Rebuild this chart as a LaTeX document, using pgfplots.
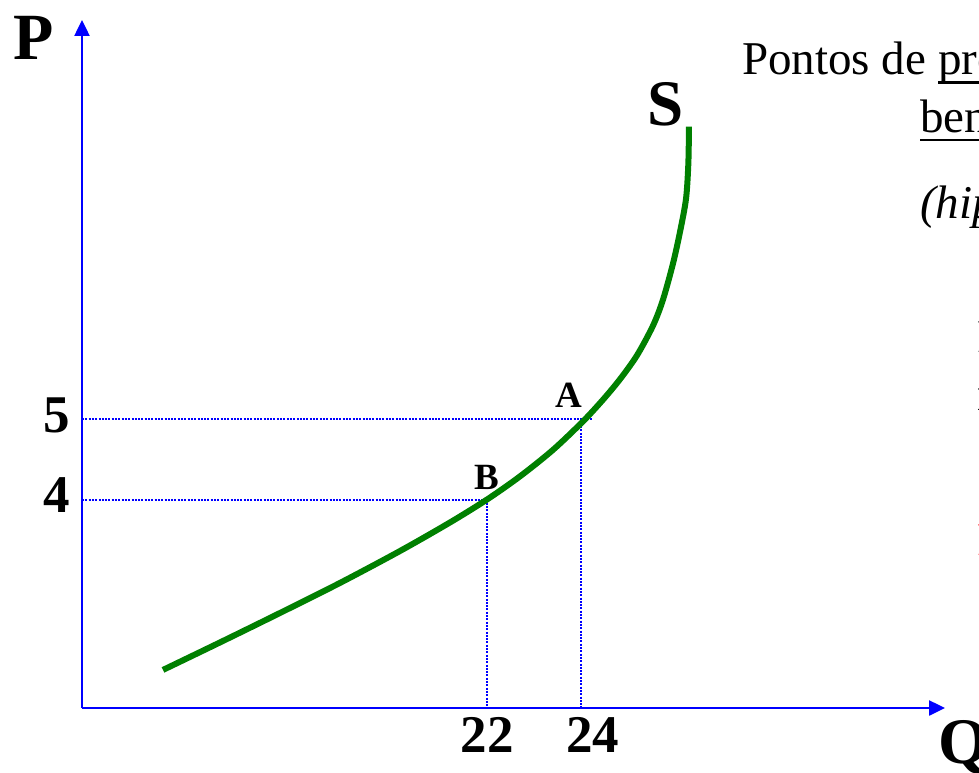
\documentclass[border=0pt]{standalone}
\usepackage{fontspec}
\setmainfont{Liberation Serif}
\usepackage{pgfplots}
\pgfplotsset{compat=1.18}
\usetikzlibrary{arrows.meta}
\definecolor{sgreen}{RGB}{0,128,0}
\newcommand\ul[1]{\setbox0\hbox{#1}\rlap{\rule[-9pt]{\wd0}{2.5pt}}\box0}
\begin{document}
\begin{tikzpicture}
\useasboundingbox (0,0) rectangle (979pt,-773pt);
\begin{axis}[at={(82pt,-708pt)}, anchor=south west, scale only axis,
  width=863pt, height=688pt,
  xmin=13.29, xmax=31.85, ymin=1.4, ymax=9.98,
  axis lines=left,
  axis line style={blue, line width=2.5pt, -{Triangle[length=16pt,width=15pt]}},
  xtick={22,24}, ytick={4,5}, xticklabels={22\hspace{12pt},\hspace{26pt}24}, yticklabels={4,5},
  major tick length=0pt, tick style={draw=none},
  ticklabel style={font=\fontsize{53}{53}\selectfont\bfseries, text=black},
  xticklabel style={anchor=north, inner sep=0pt, yshift=-9pt},
  yticklabel style={anchor=east, inner sep=0pt, xshift=-12pt, yshift=4pt},
  clip=false, /pgf/number format/assume math mode=true]
\addplot[blue, line width=2pt, dash pattern=on 2pt off 1.3pt] coordinates {(13.29,5) (24.26,5)};
\addplot[blue, line width=2pt, dash pattern=on 2pt off 1.3pt] coordinates {(24.02,5) (24.02,1.4)};
\addplot[blue, line width=2pt, dash pattern=on 2pt off 1.3pt] coordinates {(13.29,4) (22,4)};
\addplot[blue, line width=2pt, dash pattern=on 2pt off 1.3pt] coordinates {(22,4) (22,1.4)};
\addplot[sgreen, line width=6pt, smooth, tension=0.5] coordinates {
(15.032,1.875) (16.258,2.218) (17.548,2.585) (18.839,2.96) (20.129,3.358) (21.204,3.714)
(22,4) (22.710,4.289) (23.419,4.619) (24.065,4.975) (24.495,5.245) (24.860,5.5)
(25.226,5.798) (25.570,6.168) (25.785,6.493) (26.0,6.943) (26.151,7.338)
(26.280,7.75) (26.330,8.188) (26.344,8.65)};
\node[anchor=base, inner sep=0pt, font=\fontsize{37}{37}\selectfont\bfseries] at (axis cs:23.76,5.15) {A};
\node[anchor=base, inner sep=0pt, font=\fontsize{37}{37}\selectfont\bfseries] at (axis cs:22,4.125) {B};
\node[anchor=base, inner sep=0pt, font=\fontsize{65}{65}\selectfont\bfseries] at (axis cs:25.85,8.66) {S};
\end{axis}
\node[anchor=base, inner sep=0pt, font=\fontsize{66}{66}\selectfont\bfseries] at (34pt,-60pt) {P};
\node[anchor=base west, inner sep=0pt, font=\fontsize{65}{65}\selectfont\bfseries] at (938pt,-763pt) {Q};
\node[anchor=base west, inner sep=0pt, font=\fontsize{47}{47}\selectfont] at (742pt,-75pt) {Pontos de \ul{produção}};
\node[anchor=base west, inner sep=0pt, font=\fontsize{47}{47}\selectfont] at (920pt,-132pt) {\ul{bens}};
\node[anchor=base west, inner sep=0pt, font=\fontsize{47}{47}\selectfont\itshape] at (920pt,-218pt) {(hipótese)};
\node[anchor=base west, inner sep=0pt, font=\fontsize{47}{47}\selectfont] at (977pt,-352pt) {P};
\node[anchor=base west, inner sep=0pt, font=\fontsize{47}{47}\selectfont] at (977pt,-410pt) {n};
\node[anchor=base west, inner sep=0pt, font=\fontsize{47}{47}\selectfont, text=red] at (977pt,-555pt) {P};
\end{tikzpicture}
\end{document}
